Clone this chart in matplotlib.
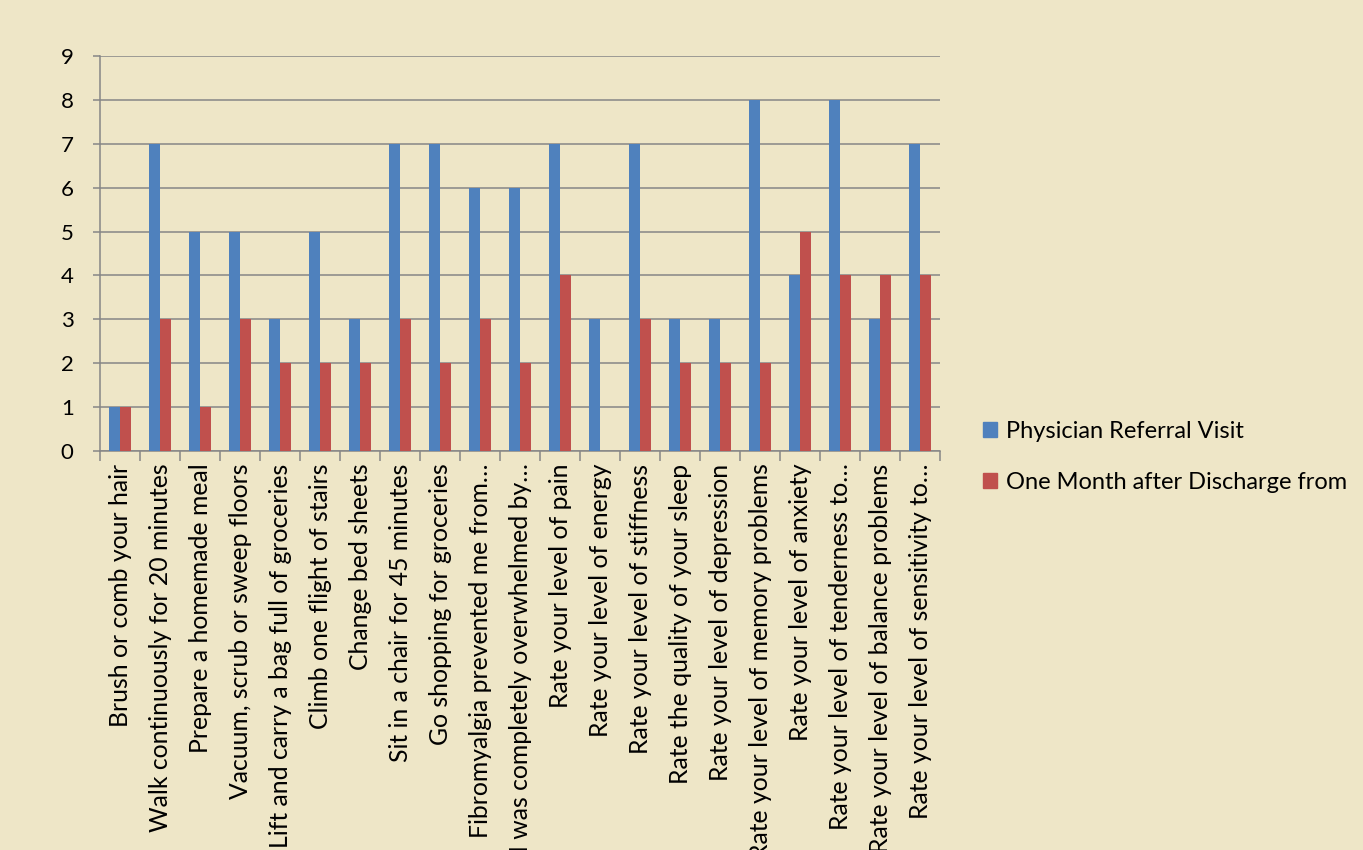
import matplotlib
matplotlib.use("Agg")
import matplotlib.pyplot as plt
import numpy as np
from matplotlib.patches import Patch

categories = [
    "Brush or comb your hair",
    "Walk continuously for 20 minutes",
    "Prepare a homemade meal",
    "Vacuum, scrub or sweep floors",
    "Lift and carry a bag full of groceries",
    "Climb one flight of stairs",
    "Change bed sheets",
    "Sit in a chair for 45 minutes",
    "Go shopping for groceries",
    "Fibromyalgia prevented me from…",
    "I was completely overwhelmed by…",
    "Rate your level of pain",
    "Rate your level of energy",
    "Rate your level of stiffness",
    "Rate the quality of your sleep",
    "Rate your level of depression",
    "Rate your level of memory problems",
    "Rate your level of anxiety",
    "Rate your level of tenderness to…",
    "Rate your level of balance problems",
    "Rate your level of sensitivity to…",
]
referral = [1, 7, 5, 5, 3, 5, 3, 7, 7, 6, 6, 7, 3, 7, 3, 3, 8, 4, 8, 3, 7]
one_month = [1, 3, 1, 3, 2, 2, 2, 3, 2, 3, 2, 4, 0, 3, 2, 2, 2, 5, 4, 4, 4]
series_names = ["Physician Referral Visit", "One Month after Discharge from"]
yticks = list(range(0, 10))

bg = "#EEE6C7"
blue = "#4F81BD"
red = "#C0504D"
grid_c = "#868686"
plt.rcParams['font.family'] = ['Lato', 'DejaVu Sans']

fig = plt.figure(figsize=(13.63, 8.5), dpi=100, facecolor=bg)
ax = fig.add_axes([100/1363, 1-451/850, 840/1363, 395/850])
ax.set_facecolor(bg)

x = np.arange(len(categories))
w = 0.275
ax.bar(x - w/2, referral, w, color=blue, zorder=3)
ax.bar(x + w/2, one_month, w, color=red, zorder=3)

ax.set_xlim(-0.5, len(categories) - 0.5)
ax.set_ylim(0, 9)
ax.set_yticks(yticks)
ax.yaxis.grid(True, color=grid_c, lw=1.1, zorder=0)
ax.set_axisbelow(True)
for s in ["top", "right"]:
    ax.spines[s].set_visible(False)
for s in ["left", "bottom"]:
    ax.spines[s].set_color(grid_c)
    ax.spines[s].set_linewidth(1.1)

ax.tick_params(axis="y", colors=grid_c, length=5, width=1.1, pad=14, labelsize=16, labelcolor="black")
ax.set_xticks(x)
ax.set_xticklabels(categories, rotation=90, fontsize=17.8, va="top", ha="center")
ax.tick_params(axis="x", which="major", length=0, pad=9)
ax.set_xticks(np.arange(-0.5, len(categories)), minor=True)
ax.tick_params(axis="x", which="minor", length=7, width=1.1, colors=grid_c)

handles = [Patch(color=blue), Patch(color=red)]
fig.legend(handles, series_names, loc="upper left", bbox_to_anchor=(962/1363, 1-400/850),
           frameon=False, fontsize=17, handlelength=0.6, handleheight=0.6,
           handletextpad=0.35, labelspacing=1.25)

fig.savefig("out.png", dpi=100, facecolor=bg)
